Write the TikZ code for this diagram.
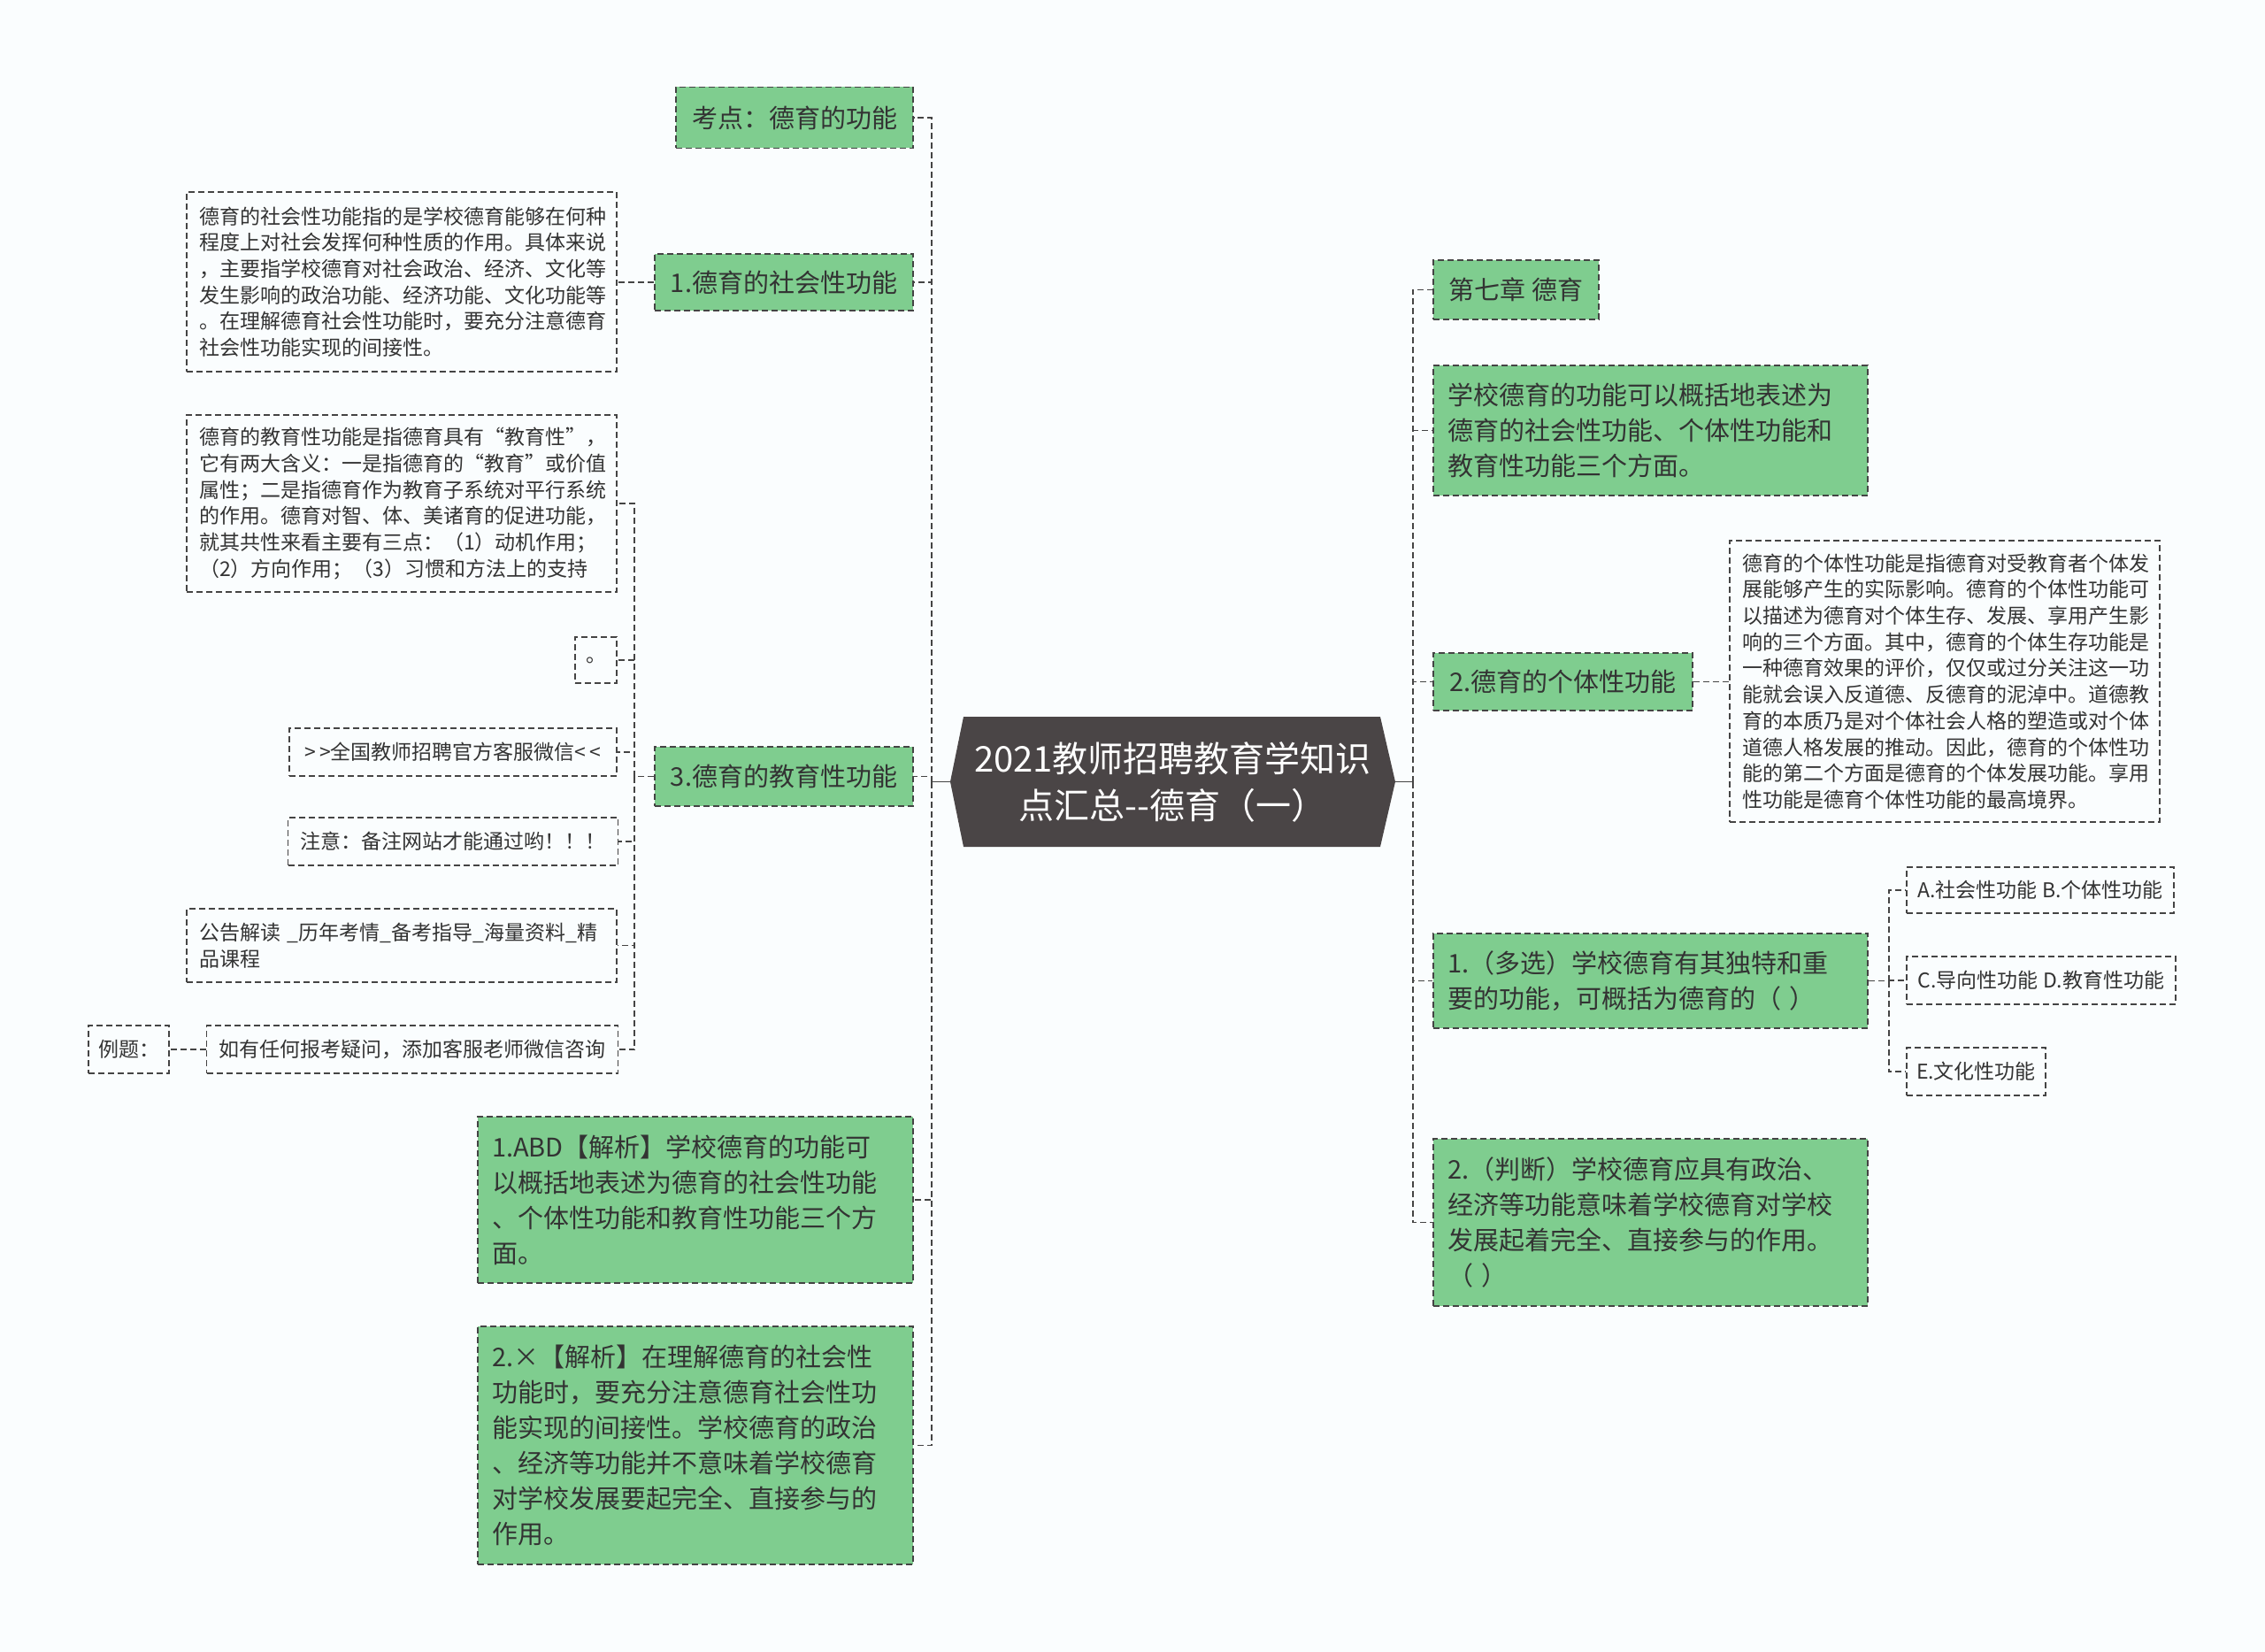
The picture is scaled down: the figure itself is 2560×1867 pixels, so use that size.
\documentclass[tikz,border=0pt]{standalone}
\usepackage{fontspec}
\setmainfont{Noto Sans CJK SC}
\usetikzlibrary{calc}
\definecolor{bgc}{HTML}{FAFDFE}
\definecolor{greenc}{HTML}{7FCD8F}
\definecolor{centc}{HTML}{4A4546}
\definecolor{txtc}{HTML}{333333}
\definecolor{bordc}{HTML}{444444}
\definecolor{linec}{HTML}{444444}
\tikzset{
  basebox/.style={draw=bordc, line width=1.8pt, dash pattern=on 7pt off 4pt, text=txtc, inner ysep=4pt},
  gbox/.style={basebox, fill=greenc, font=\fontsize{29}{40}\selectfont, inner xsep=16pt},
  wbox/.style={basebox, fill=bgc, font=\fontsize{23}{29.7}\selectfont, inner xsep=14pt},
  conn/.style={draw=linec, line width=1.8pt, dash pattern=on 7pt off 4pt},
  centbox/.style={text=white, font=\fontsize{40}{53}\selectfont, align=center,
    minimum width=503pt, minimum height=147pt, inner sep=0pt,
    path picture={\fill[centc] (path picture bounding box.west)
      -- ([xshift=15pt]path picture bounding box.north west)
      -- ([xshift=-17pt]path picture bounding box.north east)
      -- (path picture bounding box.east)
      -- ([xshift=-17pt]path picture bounding box.south east)
      -- ([xshift=15pt]path picture bounding box.south west) -- cycle;}},
}
\begin{document}
\begin{tikzpicture}[x=1pt,y=-1pt]
\fill[bgc] (0,0) rectangle (2560,1867);
\useasboundingbox (0,0) rectangle (2560,1867);

% central
\node[centbox] (c) at (1325.5,883.5) {2021教师招聘教育学知识\\点汇总-{}-德育（一）};

% left side
\node[gbox, minimum width=268pt, minimum height=69pt] (kd) at (898,133) {考点：德育的功能};
\node[gbox, minimum width=292pt, minimum height=64pt] (soc) at (886,319) {1.德育的社会性功能};
\node[wbox, text width=458pt, minimum height=203pt, align=left] (soct) at (454,318.5)
  {德育的社会性功能指的是学校德育能够在何种\\程度上对社会发挥何种性质的作用。具体来说\\，主要指学校德育对社会政治、经济、文化等\\发生影响的政治功能、经济功能、文化功能等\\。在理解德育社会性功能时，要充分注意德育\\社会性功能实现的间接性。};
\node[gbox, minimum width=292pt, minimum height=67pt] (edu) at (886,877.5) {3.德育的教育性功能};
\node[wbox, text width=458pt, minimum height=200pt, align=left] (edut) at (454,569)
  {德育的教育性功能是指德育具有“教育性”，\\它有两大含义：一是指德育的“教育”或价值\\属性；二是指德育作为教育子系统对平行系统\\的作用。德育对智、体、美诸育的促进功能，\\就其共性来看主要有三点：（1）动机作用；\\（2）方向作用；（3）习惯和方法上的支持};
\node[wbox, minimum width=47pt, minimum height=52pt, inner xsep=2pt] (dot) at (673.5,746) {。};
\node[wbox, minimum width=370pt, minimum height=54pt] (wx) at (512,850) {>\,>全国教师招聘官方客服微信<\,<};
\node[wbox, minimum width=370pt, minimum height=54pt] (zy) at (512,951) {注意：备注网站才能通过哟！！！};
\node[wbox, text width=458pt, minimum height=83pt, align=left] (gg) at (454,1068.5)
  {公告解读 \_历年考情\_备考指导\_海量资料\_精\\品课程};
\node[wbox, minimum width=462pt, minimum height=54pt] (ry) at (466,1186) {如有任何报考疑问，添加客服老师微信咨询};
\node[wbox, minimum width=91pt, minimum height=54pt, inner xsep=8pt] (lt) at (145.5,1186) {例题：};
\node[gbox, text width=460pt, minimum height=188pt, align=left] (ans1) at (786,1356)
  {1.ABD【解析】学校德育的功能可\\以概括地表述为德育的社会性功能\\、个体性功能和教育性功能三个方\\面。};
\node[gbox, text width=460pt, minimum height=269pt, align=left] (ans2) at (786,1633.5)
  {2.×【解析】在理解德育的社会性\\功能时，要充分注意德育社会性功\\能实现的间接性。学校德育的政治\\、经济等功能并不意味着学校德育\\对学校发展要起完全、直接参与的\\作用。};

% right side
\node[gbox, minimum width=187pt, minimum height=67pt] (ch7) at (1713.5,327.5) {第七章 德育};
\node[gbox, text width=459pt, minimum height=147pt, align=left] (xx) at (1865.5,486.5)
  {学校德育的功能可以概括地表述为\\德育的社会性功能、个体性功能和\\教育性功能三个方面。};
\node[gbox, minimum width=293pt, minimum height=65pt] (ind) at (1766.5,770.5) {2.德育的个体性功能};
\node[wbox, text width=458pt, minimum height=318pt, align=left] (indt) at (2198,770)
  {德育的个体性功能是指德育对受教育者个体发\\展能够产生的实际影响。德育的个体性功能可\\以描述为德育对个体生存、发展、享用产生影\\响的三个方面。其中，德育的个体生存功能是\\一种德育效果的评价，仅仅或过分关注这一功\\能就会误入反道德、反德育的泥淖中。道德教\\育的本质乃是对个体社会人格的塑造或对个体\\道德人格发展的推动。因此，德育的个体性功\\能的第二个方面是德育的个体发展功能。享用\\性功能是德育个体性功能的最高境界。};
\node[gbox, text width=459pt, minimum height=107pt, align=left] (q1) at (1865.5,1108.5)
  {1.（多选）学校德育有其独特和重\\要的功能，可概括为德育的（ ）};
\node[wbox, minimum width=302pt, minimum height=52pt, inner xsep=8pt] (oa) at (2306,1006) {A.社会性功能 B.个体性功能};
\node[wbox, minimum width=304pt, minimum height=54pt, inner xsep=8pt] (oc) at (2307,1108) {C.导向性功能 D.教育性功能};
\node[wbox, minimum width=157pt, minimum height=54pt, inner xsep=8pt] (oe) at (2233.5,1211) {E.文化性功能};
\node[gbox, text width=459pt, minimum height=189pt, align=left] (q2) at (1865.5,1381.5)
  {2.（判断）学校德育应具有政治、\\经济等功能意味着学校德育对学校\\发展起着完全、直接参与的作用。\\（ ）};

% connectors left
\draw[conn, solid] (c.west) -- ++(-21,0) coordinate (ls);
\foreach \n in {kd,soc,edu,ans1,ans2} \draw[conn] (ls) |- (\n.east);
\draw[conn] (soc.west) -- (soct.east |- soc.west);
\draw[conn] (edu.west) -- ++(-22,0) coordinate (es);
\foreach \n in {edut,dot,wx,zy,gg,ry} \draw[conn] (es) |- (\n.east);
\draw[conn] (ry.west) -- (lt.east);

% connectors right
\draw[conn, solid] (c.east) -- ++(20,0) coordinate (rs);
\foreach \n in {ch7,xx,ind,q1,q2} \draw[conn] (rs) |- (\n.west);
\draw[conn] (ind.east) -- (indt.west |- ind.east);
\draw[conn] (q1.east) -- ++(23,0) coordinate (qs);
\foreach \n in {oa,oc,oe} \draw[conn] (qs) |- (\n.west);
\end{tikzpicture}
\end{document}
